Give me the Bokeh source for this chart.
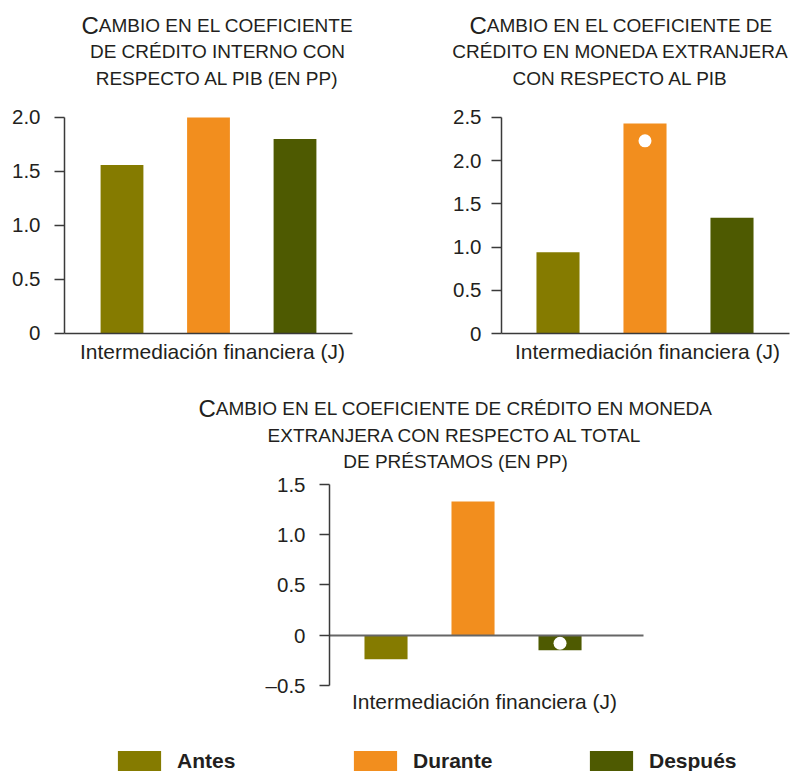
import numpy as np
from bokeh.plotting import figure
from bokeh.layouts import column, row
from bokeh.models import Range1d, FixedTicker, Label, Legend, LegendItem
from bokeh.embed import file_html
from bokeh.resources import INLINE

# Periods compared in every panel
series = ["Antes", "Durante", "Después"]
colors = ["#857B00", "#F28E1E", "#4E5A01"]

# Change in domestic credit to GDP ratio (pp)
credito_interno_pib = [1.56, 2.00, 1.80]

# Change in foreign-currency credit to GDP ratio
credito_me_pib = [0.94, 2.43, 1.34]
punto_me_pib_serie = ["Durante"]
punto_me_pib_valor = [2.23]

# Change in foreign-currency credit to total loans (pp)
credito_me_prestamos = [-0.24, 1.33, -0.15]
punto_me_prestamos_serie = ["Después"]
punto_me_prestamos_valor = [-0.08]

ticks_1 = [0, 0.5, 1.0, 1.5, 2.0]
tick_labels_1 = ["0", "0.5", "1.0", "1.5", "2.0"]
ticks_2 = [0, 0.5, 1.0, 1.5, 2.0, 2.5]
tick_labels_2 = ["0", "0.5", "1.0", "1.5", "2.0", "2.5"]
ticks_3 = [-0.5, 0, 0.5, 1.0, 1.5]
tick_labels_3 = ["\u20130.5", "0", "0.5", "1.0", "1.5"]

eje_x = "Intermediación financiera (J)"

titulo_1 = ["CAMBIO EN EL COEFICIENTE", "DE CRÉDITO INTERNO CON", "RESPECTO AL PIB (EN PP)"]
titulo_2 = ["CAMBIO EN EL COEFICIENTE DE", "CRÉDITO EN MONEDA EXTRANJERA", "CON RESPECTO AL PIB"]
titulo_3 = ["CAMBIO EN EL COEFICIENTE DE CRÉDITO EN MONEDA",
            "EXTRANJERA CON RESPECTO AL TOTAL", "DE PRÉSTAMOS (EN PP)"]

TEXT = "#231F20"
AXIS = "#3A3A3A"
FONT = "Liberation Sans"
CAP_SIZE = 24      # initial letter of each heading
SMALL_SIZE = 19    # remaining small-caps text


def canvas_label(p, x, y, text, size, align="center"):
    p.add_layout(Label(x=x, y=y, x_units="canvas", y_units="canvas", text=text,
                       text_font=FONT, text_font_size=f"{size}px", text_color=TEXT,
                       text_align=align, text_baseline="alphabetic"))


def add_title(p, lines, first_x, center_x, baselines):
    """Small-caps style heading: a larger initial letter, then centred lines."""
    first = lines[0]
    canvas_label(p, first_x, baselines[0], first[0], CAP_SIZE, "left")
    canvas_label(p, first_x + 0.722 * CAP_SIZE, baselines[0], first[1:], SMALL_SIZE, "left")
    for line, b in zip(lines[1:], baselines[1:]):
        canvas_label(p, center_x, b, line, SMALL_SIZE)


def panel(values, ticks, tick_labels, x_range, y_range, y_axis_at, x_bounds,
          width, height, tick_standoff, zero_color=AXIS, zero_width=1.5):
    p = figure(width=width, height=height, x_range=Range1d(*x_range), y_range=Range1d(*y_range),
               output_backend="svg", toolbar_location=None,
               min_border_left=0, min_border_right=0, min_border_top=0, min_border_bottom=0)
    p.outline_line_color = None
    p.grid.visible = False
    p.background_fill_color = "white"
    p.border_fill_color = "white"

    pos = np.arange(1, len(series) + 1)
    p.vbar(x=pos, top=values, bottom=0, width=0.495, fill_color=colors, line_color=None)

    ya = p.yaxis[0]
    ya.fixed_location = y_axis_at
    ya.bounds = (ticks[0], ticks[-1])
    ya.ticker = FixedTicker(ticks=ticks)
    ya.major_label_overrides = {t: l for t, l in zip(ticks, tick_labels)}
    ya.minor_tick_line_color = None
    ya.major_tick_in = 0
    ya.major_tick_out = 10
    ya.major_tick_line_color = AXIS
    ya.major_tick_line_width = 1.5
    ya.axis_line_color = AXIS
    ya.axis_line_width = 1.5
    ya.major_label_standoff = tick_standoff
    ya.major_label_text_font = FONT
    ya.major_label_text_font_size = "20.5px"
    ya.major_label_text_color = TEXT

    # horizontal axis sits on the zero line
    xa = p.xaxis[0]
    xa.fixed_location = 0
    xa.bounds = x_bounds
    xa.ticker = FixedTicker(ticks=[])
    xa.minor_tick_line_color = None
    xa.major_tick_line_color = None
    xa.major_tick_out = 0
    xa.major_label_text_font_size = "0px"
    xa.axis_line_color = zero_color
    xa.axis_line_width = zero_width
    return p


def add_points(p, names, vals):
    xs = [series.index(n) + 1 for n in names]
    p.scatter(x=xs, y=vals, size=13, marker="circle", fill_color="white", line_color=None)


# Top-left panel
p1 = panel(credito_interno_pib, ticks_1, tick_labels_1,
           (-0.4046, 4.1734), (-0.3426, 3.0833), 0.3353, (0.3353, 3.665),
           396, 370, 14)
add_title(p1, titulo_1, 81, 217, [25, 51, 78])
canvas_label(p1, 212, 351, eje_x, 21)

# Top-right panel
p2 = panel(credito_me_pib, ticks_2, tick_labels_2,
           (-0.8563, 3.6954), (-0.4282, 3.854), 0.3506, (0.3506, 3.6609),
           396, 370, 10)
add_points(p2, punto_me_pib_serie, punto_me_pib_valor)
add_title(p2, titulo_2, 73, 224, [25, 51, 78])
canvas_label(p2, 251, 351, eje_x, 21)

# Bottom panel, zero line in grey
p3 = panel(credito_me_prestamos, ticks_3, tick_labels_3,
           (-3.431, 5.672), (-0.9485, 2.6346), 0.3506, (0.3506, 3.96),
           792, 360, 14, zero_color="#666666", zero_width=2)
add_points(p3, punto_me_prestamos_serie, punto_me_prestamos_valor)
add_title(p3, titulo_3, 198, 455, [38, 65, 91])
canvas_label(p3, 484, 331, eje_x, 21)

# Shared legend strip
pl = figure(width=792, height=41, x_range=Range1d(0, 1), y_range=Range1d(0, 1),
            output_backend="svg", toolbar_location=None,
            x_axis_location=None, y_axis_location=None,
            min_border=0, min_border_left=0, min_border_right=0,
            min_border_top=0, min_border_bottom=0)
pl.outline_line_color = None
pl.grid.visible = False
items = []
for name, c in zip(series, colors):
    r = pl.vbar(x=[0.5], top=[0], bottom=[0], width=0, fill_color=c, line_color=None)
    items.append(LegendItem(label=name, renderers=[r]))
legend = Legend(items=items, orientation="horizontal", location=(112, -3),
                glyph_width=54, glyph_height=26, label_standoff=11, label_width=100,
                label_height=21, spacing=71, padding=0, margin=0,
                border_line_color=None, background_fill_alpha=0,
                label_text_font=FONT, label_text_font_size="21px",
                label_text_font_style="bold", label_text_color=TEXT)
pl.add_layout(legend)

layout = column(row(p1, p2), p3, pl)
open("out.html", "w").write(file_html(layout, INLINE))
